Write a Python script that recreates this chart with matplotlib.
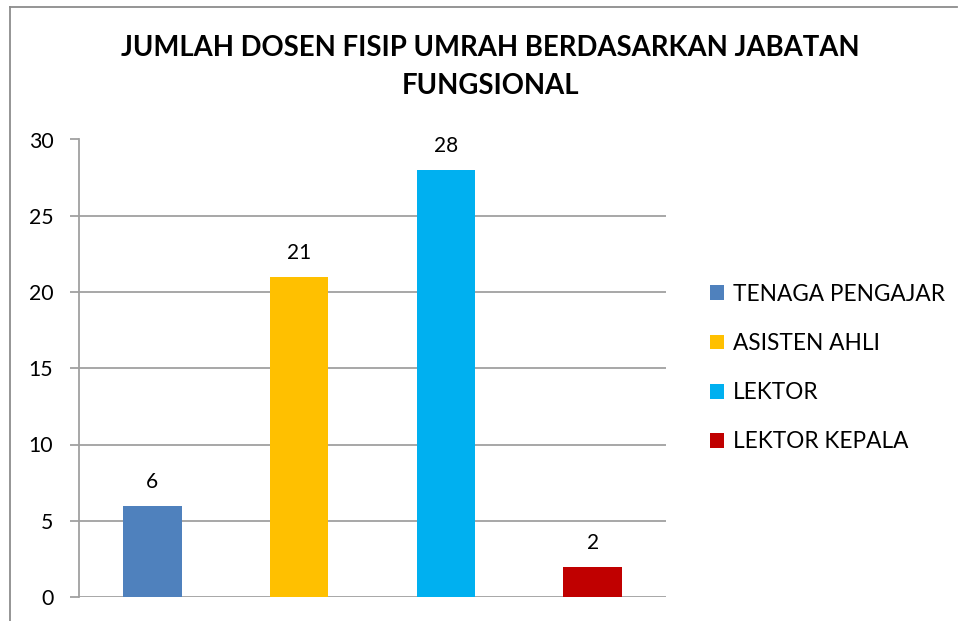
import matplotlib.pyplot as plt
from matplotlib.patches import Patch
from matplotlib.lines import Line2D

plt.rcParams['font.family'] = ['Lato', 'DejaVu Sans']

categories = ['TENAGA PENGAJAR', 'ASISTEN AHLI', 'LEKTOR', 'LEKTOR KEPALA']
values = [6, 21, 28, 2]
colors = ['#4F81BD', '#FFC000', '#00B0F0', '#C00000']
yticks = [0, 5, 10, 15, 20, 25, 30]
title = 'JUMLAH DOSEN FISIP UMRAH BERDASARKAN JABATAN\nFUNGSIONAL'

W, H = 959, 621
fig = plt.figure(figsize=(W / 100, H / 100), dpi=100)
ax = fig.add_axes([79 / W, 1 - 597 / H, (666 - 79) / W, (597 - 139.5) / H])

x = range(len(categories))
bars = ax.bar(x, values, width=0.4, color=colors, zorder=3)
for b, v in zip(bars, values):
    ax.annotate(str(v), (b.get_x() + b.get_width() / 2, v), xytext=(0, 10),
                textcoords='offset points', ha='center', va='bottom', fontsize=15)

ax.set_xlim(-0.5, len(categories) - 0.5)
ax.set_ylim(0, 30)
ax.set_yticks(yticks)
ax.set_xticks([])
ax.grid(axis='y', color='#A0A0A0', linewidth=1.3, zorder=0)
ax.tick_params(axis='y', length=6.5, width=1.3, color='#A0A0A0', pad=12, labelsize=15.3)
for s in ['top', 'right', 'bottom']:
    ax.spines[s].set_visible(False)
ax.spines['left'].set_color('#A0A0A0')
ax.spines['left'].set_linewidth(1.3)

fig.text(490 / W, 1 - 67 / H, title, ha='center', va='center', fontsize=19.8,
         fontweight='bold', linespacing=1.6)

handles = [Patch(facecolor=c, edgecolor='none') for c in colors]
fig.legend(handles, categories, loc='center left', bbox_to_anchor=(690 / W, 1 - 368 / H),
           frameon=False, fontsize=16.3, handlelength=0.62, handleheight=0.62,
           handletextpad=0.38, labelspacing=1.25)

# outer chart border
fig.add_artist(Line2D([10 / W, 10 / W], [0, 1 - 7 / H], color='#8C8C8C', linewidth=1.3))
fig.add_artist(Line2D([10 / W, 957 / W], [1 - 7 / H, 1 - 7 / H], color='#8C8C8C', linewidth=1.3))

fig.savefig('out.png', dpi=100)
